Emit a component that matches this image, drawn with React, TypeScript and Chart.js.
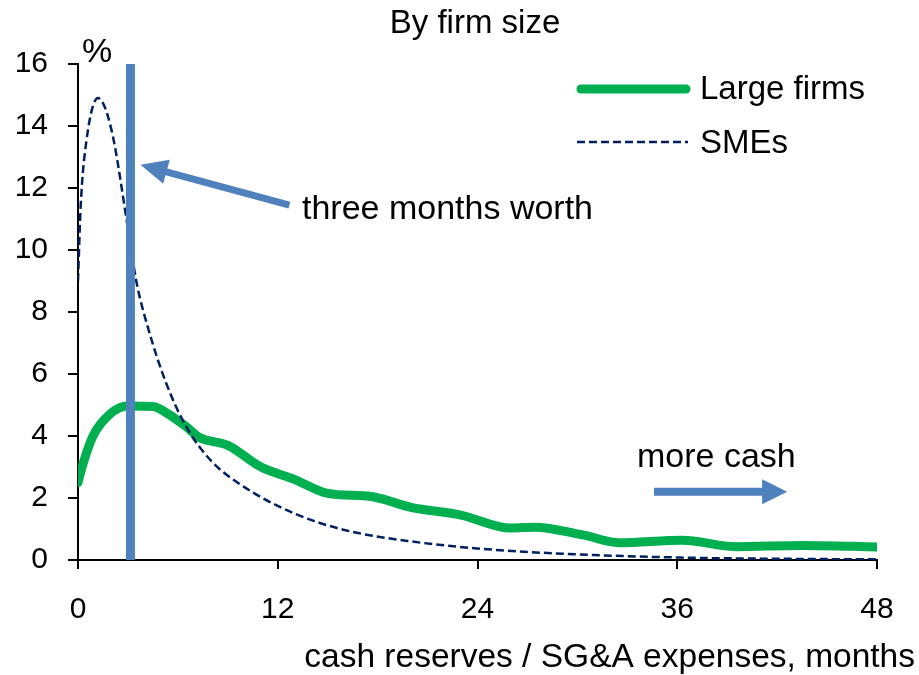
import React, { useEffect, useRef } from "react";
import { Chart, registerables } from "chart.js";

Chart.register(...registerables);

const largeMonths = [0, 0.3, 0.9, 1.9, 3, 4.5, 5.3, 6.5, 7.3, 9, 11, 13, 15, 17.6, 20, 23, 26, 27.4, 30.4, 32.5, 36.3, 39.5, 43.5, 48];
const largeValues = [2.5, 3.1, 4.0, 4.7, 4.97, 4.95, 4.75, 4.3, 3.95, 3.7, 3.0, 2.6, 2.15, 2.05, 1.7, 1.45, 1.03, 1.06, 0.8, 0.56, 0.64, 0.43, 0.47, 0.42];

const smeMonths = [0, 0.16, 0.5, 1.2, 2, 3, 3.5, 4.2, 5.3, 6.5, 8, 10, 13, 16, 20, 25, 31, 37, 42, 48];
const smeValues = [9.0, 11.4, 13.5, 14.9, 13.9, 10.7, 9.0, 7.5, 5.7, 4.3, 3.2, 2.35, 1.5, 0.97, 0.6, 0.33, 0.16, 0.07, 0.04, 0.02];

const thresholdMonths = [3.15, 3.15];
const thresholdValues = [0, 16];

const xTicks = [0, 12, 24, 36, 48];
const yTicks = [0, 2, 4, 6, 8, 10, 12, 14, 16];

const FONT = "Liberation Sans, Arial, sans-serif";
const GREEN = "#00b050";
const NAVY = "#002060";
const BLUE = "#4f81bd";

function arrow(ctx: CanvasRenderingContext2D, x1: number, y1: number, x2: number, y2: number, shaft: number, headLen: number, headW: number) {
  const ang = Math.atan2(y2 - y1, x2 - x1);
  const bx = x2 - Math.cos(ang) * headLen;
  const by = y2 - Math.sin(ang) * headLen;
  ctx.save();
  ctx.strokeStyle = BLUE;
  ctx.fillStyle = BLUE;
  ctx.lineWidth = shaft;
  ctx.lineCap = "butt";
  ctx.beginPath();
  ctx.moveTo(x1, y1);
  ctx.lineTo(bx + Math.cos(ang), by + Math.sin(ang));
  ctx.stroke();
  const px = -Math.sin(ang) * headW / 2;
  const py = Math.cos(ang) * headW / 2;
  ctx.beginPath();
  ctx.moveTo(x2, y2);
  ctx.lineTo(bx + px, by + py);
  ctx.lineTo(bx - px, by - py);
  ctx.closePath();
  ctx.fill();
  ctx.restore();
}

const overlay = {
  id: "overlay",
  afterDraw(chart: any) {
    const ctx: CanvasRenderingContext2D = chart.ctx;
    const xs = chart.scales.x;
    const ys = chart.scales.y;
    ctx.save();
    ctx.fillStyle = "#000";
    ctx.textBaseline = "alphabetic";
    ctx.textAlign = "center";
    ctx.font = `33px ${FONT}`;
    ctx.fillText("By firm size", 475, 33);
    ctx.font = `34px ${FONT}`;
    ctx.fillText("%", 97, 62);
    ctx.textAlign = "left";
    ctx.fillText("three months worth", 302, 219);
    ctx.fillText("more cash", 637, 467);
    ctx.font = `33.5px ${FONT}`;
    ctx.textAlign = "right";
    ctx.fillText("cash reserves / SG&A expenses, months", 915, 667);

    // legend
    ctx.font = `33px ${FONT}`;
    ctx.textAlign = "left";
    ctx.lineCap = "round";
    ctx.strokeStyle = GREEN;
    ctx.lineWidth = 9;
    ctx.beginPath();
    ctx.moveTo(581, 89);
    ctx.lineTo(686, 89);
    ctx.stroke();
    ctx.fillText("Large firms", 700, 99);
    ctx.lineCap = "butt";
    ctx.strokeStyle = NAVY;
    ctx.lineWidth = 2.5;
    ctx.setLineDash([8, 4]);
    ctx.beginPath();
    ctx.moveTo(577, 142);
    ctx.lineTo(688, 142);
    ctx.stroke();
    ctx.setLineDash([]);
    ctx.fillText("SMEs", 700, 153);

    // arrows
    arrow(ctx, xs.getPixelForValue(12.7), ys.getPixelForValue(11.45), xs.getPixelForValue(3.75), ys.getPixelForValue(12.75), 7, 27, 25);
    arrow(ctx, xs.getPixelForValue(34.6), ys.getPixelForValue(2.2), xs.getPixelForValue(42.6), ys.getPixelForValue(2.2), 8, 25, 25);
    ctx.restore();
  },
};

export default function App() {
  const ref = useRef<HTMLCanvasElement | null>(null);
  useEffect(() => {
    document.body.style.margin = "0";
    const canvas = ref.current!;
    const chart = new Chart(canvas, {
      type: "line",
      data: {
        datasets: [
          {
            label: "three months",
            data: thresholdMonths.map((m, i) => ({ x: m, y: thresholdValues[i] })),
            borderColor: BLUE,
            borderWidth: 9,
            pointRadius: 0,
            order: 0,
            borderCapStyle: "butt",
          },
          {
            label: "SMEs",
            data: smeMonths.map((m, i) => ({ x: m, y: smeValues[i] })),
            borderColor: NAVY,
            borderWidth: 2.5,
            borderDash: [8, 4],
            pointRadius: 0,
            cubicInterpolationMode: "monotone",
            order: 1,
          },
          {
            label: "Large firms",
            data: largeMonths.map((m, i) => ({ x: m, y: largeValues[i] })),
            borderColor: GREEN,
            borderWidth: 9,
            pointRadius: 0,
            cubicInterpolationMode: "monotone",
            borderCapStyle: "round",
            borderJoinStyle: "round",
            order: 2,
          },
        ],
      },
      options: {
        animation: false,
        responsive: false,
        maintainAspectRatio: false,
        layout: { padding: { top: 64, right: 42, left: 0, bottom: 0 } },
        plugins: { legend: { display: false }, tooltip: { enabled: false }, title: { display: false } },
        scales: {
          x: {
            type: "linear",
            min: 0,
            max: 48,
            afterBuildTicks: (s: any) => { s.ticks = xTicks.map((v) => ({ value: v })); },
            afterFit: (s: any) => { s.height = 115; },
            grid: { drawOnChartArea: false, drawTicks: true, tickLength: 9, color: "#000", lineWidth: 2 },
            border: { display: true, color: "#000", width: 2 },
            ticks: { color: "#000", font: { family: FONT, size: 30 }, padding: 23, maxRotation: 0 },
          },
          y: {
            type: "linear",
            min: 0,
            max: 16,
            afterBuildTicks: (s: any) => { s.ticks = yTicks.map((v) => ({ value: v })); },
            afterFit: (s: any) => { s.width = 78; },
            grid: { drawOnChartArea: false, drawTicks: true, tickLength: 10, color: "#000", lineWidth: 2 },
            border: { display: true, color: "#000", width: 2 },
            ticks: { color: "#000", font: { family: FONT, size: 30 }, padding: 20 },
          },
        },
      },
      plugins: [overlay],
    } as any);
    return () => chart.destroy();
  }, []);
  return <canvas ref={ref} width={919} height={675} style={{ display: "block" }} />;
}
